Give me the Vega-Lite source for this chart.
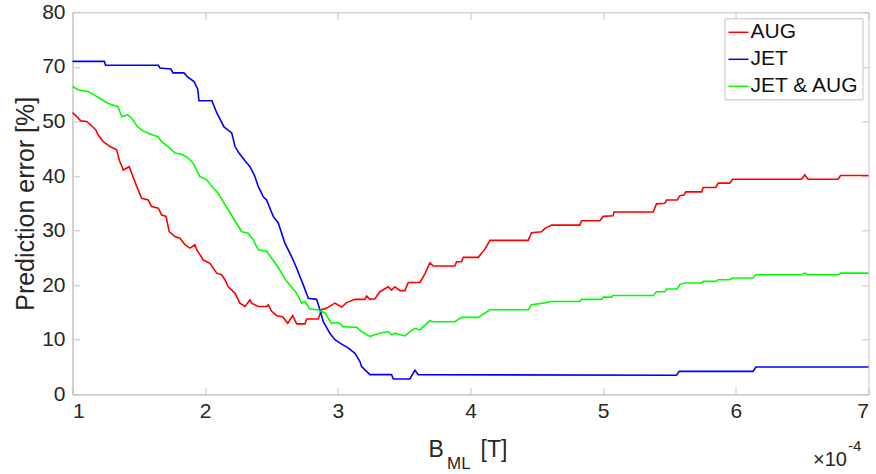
{
  "$schema": "https://vega.github.io/schema/vega-lite/v6.json",
  "autosize": {"type": "none"},
  "width": 796,
  "height": 382,
  "padding": {"left": 72.5, "top": 12.3, "right": 7.5, "bottom": 79.7},
  "background": "white",
  "config": {
    "font": "Liberation Sans",
    "view": {"stroke": "#c4c4c4", "strokeWidth": 1},
    "axis": {"grid": false, "domainColor": "#c4c4c4", "tickColor": "#c4c4c4", "labelColor": "#262626", "titleColor": "#262626", "labelFont": "Liberation Sans", "titleFont": "Liberation Sans", "titleFontWeight": "normal"}
  },
  "datasets": {
    "d": [
      {"s":"AUG","b":1.000,"e":51.6},{"s":"AUG","b":1.032,"e":50.9},{"s":"AUG","b":1.062,"e":50.1},{"s":"AUG","b":1.107,"e":50.0},{"s":"AUG","b":1.145,"e":49.2},{"s":"AUG","b":1.177,"e":48.4},{"s":"AUG","b":1.194,"e":47.5},{"s":"AUG","b":1.232,"e":46.3},{"s":"AUG","b":1.283,"e":45.4},{"s":"AUG","b":1.333,"e":44.8},{"s":"AUG","b":1.353,"e":42.9},{"s":"AUG","b":1.383,"e":41.1},{"s":"AUG","b":1.428,"e":41.7},{"s":"AUG","b":1.446,"e":40.5},{"s":"AUG","b":1.484,"e":38.1},{"s":"AUG","b":1.521,"e":35.9},{"s":"AUG","b":1.571,"e":35.6},{"s":"AUG","b":1.597,"e":34.4},{"s":"AUG","b":1.647,"e":34.1},{"s":"AUG","b":1.672,"e":32.9},{"s":"AUG","b":1.705,"e":32.6},{"s":"AUG","b":1.729,"e":29.8},{"s":"AUG","b":1.772,"e":28.9},{"s":"AUG","b":1.810,"e":28.6},{"s":"AUG","b":1.848,"e":27.4},{"s":"AUG","b":1.885,"e":26.8},{"s":"AUG","b":1.923,"e":27.4},{"s":"AUG","b":1.936,"e":26.5},{"s":"AUG","b":1.986,"e":24.6},{"s":"AUG","b":2.036,"e":24.0},{"s":"AUG","b":2.087,"e":22.2},{"s":"AUG","b":2.124,"e":21.9},{"s":"AUG","b":2.149,"e":21.0},{"s":"AUG","b":2.174,"e":19.7},{"s":"AUG","b":2.225,"e":18.5},{"s":"AUG","b":2.262,"e":16.7},{"s":"AUG","b":2.300,"e":16.1},{"s":"AUG","b":2.338,"e":17.3},{"s":"AUG","b":2.350,"e":16.7},{"s":"AUG","b":2.400,"e":16.1},{"s":"AUG","b":2.463,"e":16.1},{"s":"AUG","b":2.476,"e":16.4},{"s":"AUG","b":2.501,"e":15.2},{"s":"AUG","b":2.539,"e":14.4},{"s":"AUG","b":2.584,"e":14.2},{"s":"AUG","b":2.622,"e":13.0},{"s":"AUG","b":2.659,"e":14.4},{"s":"AUG","b":2.690,"e":12.9},{"s":"AUG","b":2.752,"e":12.9},{"s":"AUG","b":2.765,"e":13.8},{"s":"AUG","b":2.852,"e":13.8},{"s":"AUG","b":2.878,"e":15.5},{"s":"AUG","b":2.916,"e":15.8},{"s":"AUG","b":2.978,"e":16.7},{"s":"AUG","b":3.029,"e":16.0},{"s":"AUG","b":3.066,"e":16.8},{"s":"AUG","b":3.129,"e":17.4},{"s":"AUG","b":3.204,"e":17.4},{"s":"AUG","b":3.217,"e":18.0},{"s":"AUG","b":3.242,"e":17.4},{"s":"AUG","b":3.280,"e":17.5},{"s":"AUG","b":3.317,"e":18.8},{"s":"AUG","b":3.380,"e":19.7},{"s":"AUG","b":3.405,"e":19.1},{"s":"AUG","b":3.430,"e":19.7},{"s":"AUG","b":3.468,"e":19.0},{"s":"AUG","b":3.506,"e":19.0},{"s":"AUG","b":3.531,"e":20.5},{"s":"AUG","b":3.619,"e":20.5},{"s":"AUG","b":3.657,"e":22.1},{"s":"AUG","b":3.694,"e":24.1},{"s":"AUG","b":3.719,"e":23.5},{"s":"AUG","b":3.882,"e":23.5},{"s":"AUG","b":3.895,"e":24.3},{"s":"AUG","b":3.933,"e":24.3},{"s":"AUG","b":3.945,"e":25.1},{"s":"AUG","b":4.058,"e":25.1},{"s":"AUG","b":4.109,"e":26.6},{"s":"AUG","b":4.146,"e":28.2},{"s":"AUG","b":4.435,"e":28.2},{"s":"AUG","b":4.460,"e":29.6},{"s":"AUG","b":4.536,"e":29.8},{"s":"AUG","b":4.561,"e":30.4},{"s":"AUG","b":4.611,"e":31.0},{"s":"AUG","b":4.824,"e":31.0},{"s":"AUG","b":4.837,"e":31.8},{"s":"AUG","b":4.975,"e":31.8},{"s":"AUG","b":5.000,"e":32.6},{"s":"AUG","b":5.075,"e":32.7},{"s":"AUG","b":5.081,"e":33.4},{"s":"AUG","b":5.377,"e":33.4},{"s":"AUG","b":5.402,"e":34.9},{"s":"AUG","b":5.465,"e":35.0},{"s":"AUG","b":5.478,"e":35.6},{"s":"AUG","b":5.558,"e":35.6},{"s":"AUG","b":5.578,"e":36.4},{"s":"AUG","b":5.608,"e":36.5},{"s":"AUG","b":5.623,"e":37.1},{"s":"AUG","b":5.742,"e":37.1},{"s":"AUG","b":5.754,"e":37.9},{"s":"AUG","b":5.849,"e":37.9},{"s":"AUG","b":5.867,"e":38.7},{"s":"AUG","b":5.955,"e":38.7},{"s":"AUG","b":5.975,"e":39.4},{"s":"AUG","b":6.495,"e":39.4},{"s":"AUG","b":6.520,"e":40.2},{"s":"AUG","b":6.545,"e":39.4},{"s":"AUG","b":6.771,"e":39.4},{"s":"AUG","b":6.789,"e":40.1},{"s":"AUG","b":7.000,"e":40.1},
      {"s":"JET","b":1.000,"e":61.0},{"s":"JET","b":1.240,"e":61.0},{"s":"JET","b":1.249,"e":60.3},{"s":"JET","b":1.647,"e":60.3},{"s":"JET","b":1.659,"e":59.8},{"s":"JET","b":1.742,"e":59.6},{"s":"JET","b":1.757,"e":58.9},{"s":"JET","b":1.840,"e":58.9},{"s":"JET","b":1.870,"e":58.1},{"s":"JET","b":1.916,"e":57.3},{"s":"JET","b":1.944,"e":55.9},{"s":"JET","b":1.953,"e":53.8},{"s":"JET","b":2.051,"e":53.8},{"s":"JET","b":2.087,"e":51.6},{"s":"JET","b":2.104,"e":50.8},{"s":"JET","b":2.142,"e":49.0},{"s":"JET","b":2.200,"e":47.9},{"s":"JET","b":2.225,"e":45.4},{"s":"JET","b":2.255,"e":44.2},{"s":"JET","b":2.300,"e":42.8},{"s":"JET","b":2.338,"e":41.7},{"s":"JET","b":2.375,"e":39.9},{"s":"JET","b":2.400,"e":38.1},{"s":"JET","b":2.438,"e":36.2},{"s":"JET","b":2.463,"e":35.6},{"s":"JET","b":2.513,"e":32.6},{"s":"JET","b":2.551,"e":31.4},{"s":"JET","b":2.601,"e":27.7},{"s":"JET","b":2.652,"e":25.2},{"s":"JET","b":2.690,"e":23.1},{"s":"JET","b":2.714,"e":21.6},{"s":"JET","b":2.739,"e":20.1},{"s":"JET","b":2.777,"e":17.6},{"s":"JET","b":2.840,"e":17.4},{"s":"JET","b":2.865,"e":15.5},{"s":"JET","b":2.890,"e":13.3},{"s":"JET","b":2.940,"e":11.2},{"s":"JET","b":2.978,"e":10.0},{"s":"JET","b":3.029,"e":9.2},{"s":"JET","b":3.078,"e":8.5},{"s":"JET","b":3.129,"e":7.5},{"s":"JET","b":3.167,"e":6.0},{"s":"JET","b":3.179,"e":5.1},{"s":"JET","b":3.242,"e":3.6},{"s":"JET","b":3.405,"e":3.6},{"s":"JET","b":3.418,"e":2.8},{"s":"JET","b":3.543,"e":2.8},{"s":"JET","b":3.581,"e":4.4},{"s":"JET","b":3.606,"e":3.6},{"s":"JET","b":5.553,"e":3.5},{"s":"JET","b":5.573,"e":4.2},{"s":"JET","b":6.130,"e":4.2},{"s":"JET","b":6.151,"e":5.0},{"s":"JET","b":7.000,"e":5.0},
      {"s":"JET & AUG","b":1.000,"e":56.4},{"s":"JET & AUG","b":1.041,"e":55.8},{"s":"JET & AUG","b":1.117,"e":55.5},{"s":"JET & AUG","b":1.154,"e":55.0},{"s":"JET & AUG","b":1.207,"e":54.2},{"s":"JET & AUG","b":1.268,"e":53.3},{"s":"JET & AUG","b":1.343,"e":52.7},{"s":"JET & AUG","b":1.371,"e":50.9},{"s":"JET & AUG","b":1.418,"e":51.2},{"s":"JET & AUG","b":1.446,"e":50.6},{"s":"JET & AUG","b":1.484,"e":49.2},{"s":"JET & AUG","b":1.521,"e":48.4},{"s":"JET & AUG","b":1.576,"e":47.8},{"s":"JET & AUG","b":1.644,"e":47.2},{"s":"JET & AUG","b":1.672,"e":46.3},{"s":"JET & AUG","b":1.720,"e":45.4},{"s":"JET & AUG","b":1.772,"e":44.2},{"s":"JET & AUG","b":1.823,"e":44.0},{"s":"JET & AUG","b":1.873,"e":43.3},{"s":"JET & AUG","b":1.910,"e":42.3},{"s":"JET & AUG","b":1.961,"e":39.9},{"s":"JET & AUG","b":2.011,"e":39.3},{"s":"JET & AUG","b":2.061,"e":37.8},{"s":"JET & AUG","b":2.099,"e":36.8},{"s":"JET & AUG","b":2.136,"e":35.3},{"s":"JET & AUG","b":2.212,"e":32.3},{"s":"JET & AUG","b":2.275,"e":29.8},{"s":"JET & AUG","b":2.325,"e":29.5},{"s":"JET & AUG","b":2.362,"e":28.3},{"s":"JET & AUG","b":2.400,"e":26.5},{"s":"JET & AUG","b":2.463,"e":26.2},{"s":"JET & AUG","b":2.539,"e":23.7},{"s":"JET & AUG","b":2.614,"e":20.7},{"s":"JET & AUG","b":2.690,"e":18.5},{"s":"JET & AUG","b":2.727,"e":16.7},{"s":"JET & AUG","b":2.752,"e":17.0},{"s":"JET & AUG","b":2.790,"e":15.6},{"s":"JET & AUG","b":2.852,"e":15.5},{"s":"JET & AUG","b":2.903,"e":14.9},{"s":"JET & AUG","b":2.953,"e":13.0},{"s":"JET & AUG","b":3.003,"e":13.2},{"s":"JET & AUG","b":3.041,"e":12.4},{"s":"JET & AUG","b":3.116,"e":12.3},{"s":"JET & AUG","b":3.142,"e":12.3},{"s":"JET & AUG","b":3.179,"e":11.5},{"s":"JET & AUG","b":3.242,"e":10.6},{"s":"JET & AUG","b":3.280,"e":10.9},{"s":"JET & AUG","b":3.317,"e":11.2},{"s":"JET & AUG","b":3.380,"e":11.5},{"s":"JET & AUG","b":3.405,"e":10.9},{"s":"JET & AUG","b":3.430,"e":11.2},{"s":"JET & AUG","b":3.506,"e":10.7},{"s":"JET & AUG","b":3.543,"e":11.5},{"s":"JET & AUG","b":3.581,"e":12.1},{"s":"JET & AUG","b":3.619,"e":11.8},{"s":"JET & AUG","b":3.644,"e":12.4},{"s":"JET & AUG","b":3.694,"e":13.5},{"s":"JET & AUG","b":3.719,"e":13.3},{"s":"JET & AUG","b":3.882,"e":13.3},{"s":"JET & AUG","b":3.933,"e":14.1},{"s":"JET & AUG","b":4.058,"e":14.1},{"s":"JET & AUG","b":4.146,"e":15.5},{"s":"JET & AUG","b":4.435,"e":15.5},{"s":"JET & AUG","b":4.460,"e":16.4},{"s":"JET & AUG","b":4.548,"e":16.7},{"s":"JET & AUG","b":4.611,"e":17.0},{"s":"JET & AUG","b":4.824,"e":17.0},{"s":"JET & AUG","b":4.837,"e":17.4},{"s":"JET & AUG","b":4.988,"e":17.4},{"s":"JET & AUG","b":5.000,"e":17.8},{"s":"JET & AUG","b":5.063,"e":17.8},{"s":"JET & AUG","b":5.075,"e":18.1},{"s":"JET & AUG","b":5.377,"e":18.1},{"s":"JET & AUG","b":5.402,"e":18.8},{"s":"JET & AUG","b":5.465,"e":18.8},{"s":"JET & AUG","b":5.478,"e":19.3},{"s":"JET & AUG","b":5.558,"e":19.3},{"s":"JET & AUG","b":5.578,"e":20.1},{"s":"JET & AUG","b":5.616,"e":20.4},{"s":"JET & AUG","b":5.742,"e":20.4},{"s":"JET & AUG","b":5.754,"e":20.7},{"s":"JET & AUG","b":5.849,"e":20.7},{"s":"JET & AUG","b":5.867,"e":21.0},{"s":"JET & AUG","b":5.955,"e":21.0},{"s":"JET & AUG","b":5.975,"e":21.3},{"s":"JET & AUG","b":6.130,"e":21.3},{"s":"JET & AUG","b":6.151,"e":21.9},{"s":"JET & AUG","b":6.495,"e":21.9},{"s":"JET & AUG","b":6.520,"e":22.2},{"s":"JET & AUG","b":6.545,"e":21.9},{"s":"JET & AUG","b":6.771,"e":21.9},{"s":"JET & AUG","b":6.789,"e":22.2},{"s":"JET & AUG","b":7.000,"e":22.2}
    ]
  },
  "data": {"name": "d"},
  "layer": [
    {
      "mark": {"type": "line", "strokeWidth": 1.6},
      "encoding": {
        "x": {"field": "b", "type": "quantitative",
          "scale": {"domain": [1, 7], "nice": false, "zero": false},
          "axis": {"orient": "bottom", "values": [1,2,3,4,5,6,7], "format": "d", "tickSize": -7, "labelPadding": 13, "labelFontSize": 21, "labelBaseline": "top",
            "title": "B", "titleFontSize": 23, "titleX": 355.5, "titleY": 62.5, "titleBaseline": "alphabetic", "titleAlign": "left"}},
        "y": {"field": "e", "type": "quantitative",
          "scale": {"domain": [0, 70], "nice": false, "zero": true},
          "axis": {"orient": "left", "values": [0,10,20,30,40,50,60,70], "labelExpr": "datum.value >= 60 ? datum.value + 10 : datum.value", "tickSize": -7, "labelPadding": 14.5, "labelFontSize": 21,
            "title": "Prediction error [%]", "titleFontSize": 25, "titleAngle": -90, "titleX": -39.5, "titleY": 191, "titleAlign": "center", "titleBaseline": "alphabetic"}},
        "color": {"field": "s", "type": "nominal",
          "scale": {"domain": ["AUG", "JET", "JET & AUG"], "range": ["#ff0000", "#0000ff", "#00ff00"]},
          "legend": {"title": null, "orient": "top-right", "offset": 6, "strokeColor": "#c4c4c4", "fillColor": "white", "padding": 3,
            "symbolType": "stroke", "symbolSize": 400, "symbolStrokeWidth": 1.5, "labelFontSize": 21, "labelColor": "#111111", "labelOffset": 1, "rowPadding": 6, "labelFont": "Liberation Sans"}}
      }
    },
    {
      "mark": {"type": "point", "opacity": 0},
      "encoding": {
        "x": {"field": "b", "type": "quantitative",
          "axis": {"orient": "bottom", "labels": false, "ticks": false, "domain": false,
            "title": "ML", "titleFontSize": 17, "titleX": 374, "titleY": 74.5, "titleBaseline": "alphabetic", "titleAlign": "left"}},
        "y": {"field": "e", "type": "quantitative",
          "axis": {"orient": "right", "values": [0,10,20,30,40,50,60,70], "labels": false, "domain": false, "tickSize": -7, "title": null}}
      }
    },
    {
      "mark": {"type": "point", "opacity": 0},
      "encoding": {
        "x": {"field": "b", "type": "quantitative",
          "axis": {"orient": "top", "values": [1,2,3,4,5,6,7], "labels": false, "domain": false, "tickSize": -7, "title": null}}
      }
    },
    {
      "mark": {"type": "point", "opacity": 0},
      "encoding": {
        "x": {"field": "b", "type": "quantitative",
          "axis": {"orient": "bottom", "labels": false, "ticks": false, "domain": false,
            "title": "[T]", "titleFontSize": 23, "titleX": 407.5, "titleY": 62.5, "titleBaseline": "alphabetic", "titleAlign": "left"}}
      }
    },
    {
      "mark": {"type": "point", "opacity": 0},
      "encoding": {
        "x": {"field": "b", "type": "quantitative",
          "axis": {"orient": "bottom", "labels": false, "ticks": false, "domain": false,
            "title": "×10", "titleFontSize": 20, "titleX": 774, "titleY": 71.5, "titleBaseline": "alphabetic", "titleAlign": "right"}}
      }
    },
    {
      "mark": {"type": "point", "opacity": 0},
      "encoding": {
        "x": {"field": "b", "type": "quantitative",
          "axis": {"orient": "bottom", "labels": false, "ticks": false, "domain": false,
            "title": "-4", "titleFontSize": 15, "titleX": 775, "titleY": 56, "titleBaseline": "alphabetic", "titleAlign": "left"}}
      }
    }
  ],
  "resolve": {"axis": {"x": "independent", "y": "independent"}}
}
